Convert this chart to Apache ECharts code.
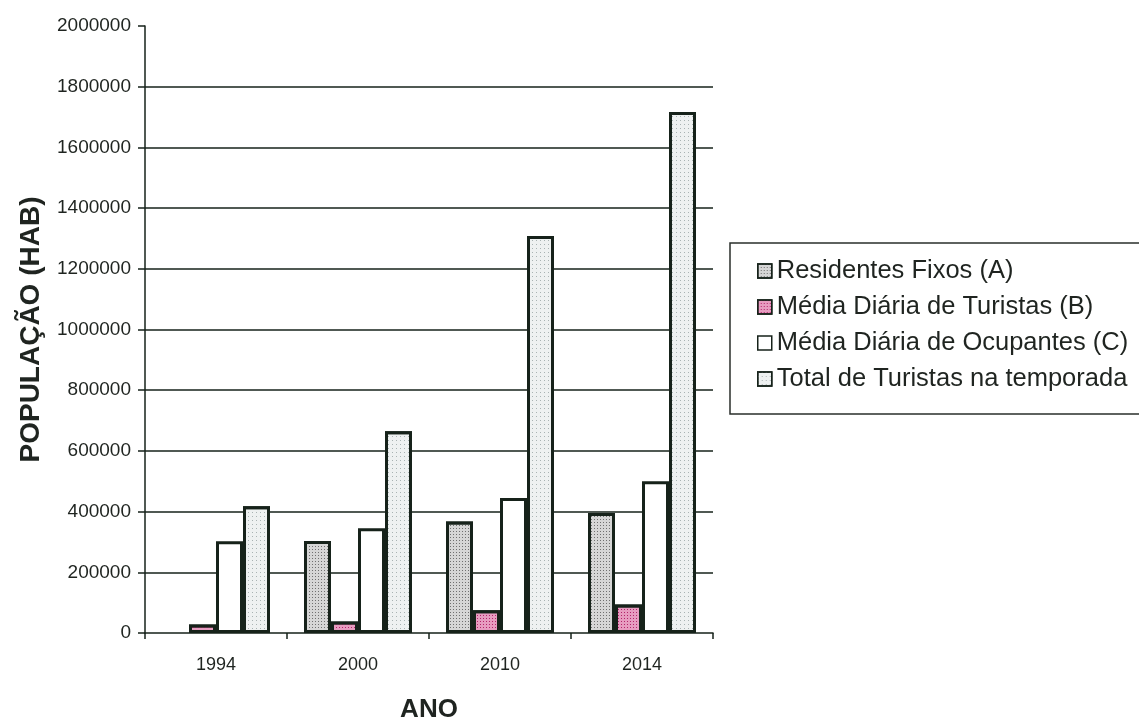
<!DOCTYPE html>
<html>
<head>
<meta charset="utf-8">
<script src="https://cdn.jsdelivr.net/npm/echarts@6/dist/echarts.min.js"></script>
<style>
  html, body { margin: 0; padding: 0; background: #ffffff; }
  #chart { width: 1139px; height: 720px; }
</style>
</head>
<body>
<div id="chart"></div>
<script>
// Anos e séries de população (habitantes)
const anos = ['1994', '2000', '2010', '2014'];
const residentesFixos = [null, 303000, 367000, 395000];
const mediaDiariaTuristas = [28000, 38000, 75000, 94000];
const mediaDiariaOcupantes = [302000, 345000, 445000, 500000];
const totalTuristasTemporada = [418000, 665000, 1308000, 1717000];

const nomes = [
  'Residentes Fixos (A)',
  'Média Diária de Turistas (B)',
  'Média Diária de Ocupantes (C)',
  'Total de Turistas na temporada'
];

const contorno = '#16221a';
const texto = '#1f2420';
const fonte = '"Liberation Sans", Arial, sans-serif';

// pontilhado fino aplicado sobre a cor de fundo de cada barra
function pontilhado(cor, passo) {
  return {
    symbol: 'rect',
    symbolSize: 1,
    dashArrayX: [1, passo],
    dashArrayY: [1, passo],
    color: cor,
    rotation: 0
  };
}

function serie(nome, valores, fundo, decal) {
  return {
    name: nome,
    type: 'bar',
    data: valores,
    barWidth: 27,
    barGap: '0%',
    itemStyle: {
      color: fundo,
      borderColor: contorno,
      borderWidth: 3,
      decal: decal
    },
    emphasis: { disabled: true }
  };
}

const chart = echarts.init(document.getElementById('chart'), null, { renderer: 'canvas' });

chart.setOption({
  animation: false,
  backgroundColor: '#ffffff',
  textStyle: { fontFamily: fonte, color: texto },
  grid: {
    left: 145, right: 426, top: 26, bottom: 87,
    containLabel: false,
    outerBoundsMode: 'none'
  },
  legend: {
    orient: 'vertical',
    left: 730,
    top: 243,
    padding: [15, 40, 22, 27],
    itemWidth: 14,
    itemHeight: 14,
    itemGap: 10,
    backgroundColor: '#ffffff',
    borderColor: '#2a2f2b',
    borderWidth: 1.5,
    borderRadius: 0,
    icon: 'rect',
    itemStyle: { borderWidth: 1.5, borderColor: contorno },
    textStyle: { fontFamily: fonte, fontSize: 25.5, color: texto },
    data: nomes
  },
  xAxis: {
    type: 'category',
    data: anos,
    name: 'ANO',
    nameLocation: 'middle',
    nameGap: 64,
    nameTextStyle: { fontFamily: fonte, fontSize: 26, fontWeight: 'bold', color: texto },
    axisLine: { lineStyle: { color: contorno, width: 1.5 } },
    axisTick: { show: true, length: 6, inside: false, lineStyle: { color: contorno, width: 1.5 } },
    axisLabel: { fontFamily: fonte, fontSize: 18, color: texto, margin: 23 },
    splitLine: { show: false }
  },
  yAxis: {
    type: 'value',
    min: 0,
    max: 2000000,
    interval: 200000,
    name: 'POPULAÇÃO (HAB)',
    nameLocation: 'middle',
    nameGap: 100,
    nameRotate: 90,
    nameTextStyle: { fontFamily: fonte, fontSize: 28, fontWeight: 'bold', color: texto },
    axisLine: { show: true, lineStyle: { color: contorno, width: 1.5 } },
    axisTick: { show: true, length: 7, lineStyle: { color: contorno, width: 1.5 } },
    axisLabel: {
      fontFamily: fonte,
      fontSize: 19,
      color: texto,
      margin: 14,
      formatter: function (v) { return String(v); }
    },
    splitLine: {
      show: true,
      showMinLine: false,
      showMaxLine: false,
      lineStyle: { color: contorno, width: 1.5 }
    }
  },
  series: [
    serie(nomes[0], residentesFixos, '#d6d6d6', pontilhado('#707070', 2)),
    serie(nomes[1], mediaDiariaTuristas, '#e79cc0', pontilhado('#b3246a', 2)),
    serie(nomes[2], mediaDiariaOcupantes, '#ffffff', null),
    serie(nomes[3], totalTuristasTemporada, '#eef1f1', pontilhado('#a9b3b3', 3))
  ]
});
</script>
</body>
</html>
